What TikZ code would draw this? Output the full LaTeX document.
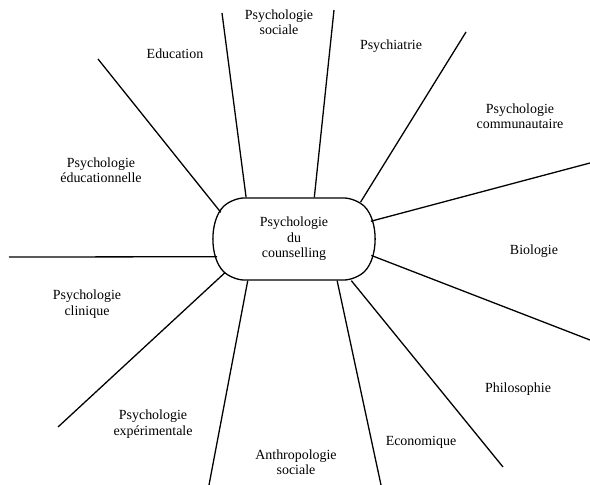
\documentclass[tikz,border=0pt]{standalone}
\usepackage{fontspec}
\setmainfont{Liberation Serif}
\usetikzlibrary{shapes.misc}

\begin{document}
\begin{tikzpicture}[x=1bp, y=-1bp, line width=1.3pt,
                    hub/.style = {rounded rectangle, rounded rectangle arc length=90, draw, fill=white,
                                  rounded corners=12bp, minimum width=158bp, minimum height=82bp,
                                  inner sep=0pt, align=center, font=\fontsize{14}{15.5}\selectfont},
                    field/.style = {align=center, font=\fontsize{14}{15.5}\selectfont}]
      \useasboundingbox (0,0) rectangle (590,485);

      \node [hub] (counsel) at (294,239) {Psychologie\\du\\counselling};

      \coordinate (socialeEnd) at (222,13);
      \coordinate (psychiatrieEnd) at (334,10);
      \coordinate (communEnd) at (466,32);
      \coordinate (biologieEnd) at (590,163);
      \coordinate (philoEnd) at (590,340);
      \coordinate (ecoEnd) at (503,467);
      \coordinate (anthroEnd) at (381,485);
      \coordinate (experEnd) at (209,485);
      \coordinate (cliniqueEnd) at (58,427);
      \coordinate (educEnd) at (9,257);
      \coordinate (educationEnd) at (98,59);

      \node [field] (sociale) at (279,22) {Psychologie\\sociale};
      \node [field] (education) at (175,54) {Education};
      \node [field] (psychiatrie) at (391,46) {Psychiatrie};
      \node [field] (commun) at (520,116) {Psychologie\\communautaire};
      \node [field] (educ) at (101,170) {Psychologie\\éducationnelle};
      \node [field] (biologie) at (534,251) {Biologie};
      \node [field] (clinique) at (87,304) {Psychologie\\clinique};
      \node [field] (philo) at (518,389) {Philosophie};
      \node [field] (exper) at (153,424) {Psychologie\\expérimentale};
      \node [field] (eco) at (421,442) {Economique};
      \node [field] (anthro) at (296,462) {Anthropologie\\sociale};

      \draw (socialeEnd) -- (counsel.139);
      \draw (psychiatrieEnd) -- (counsel.64);
      \draw (communEnd) -- (counsel.29);
      \draw (biologieEnd) -- (counsel.13);
      \draw (philoEnd) -- (counsel.-12);
      \draw (ecoEnd) -- (counsel.-36);
      \draw (anthroEnd) -- (counsel.-44);
      \draw (experEnd) -- (counsel.222);
      \draw (cliniqueEnd) -- (counsel.206);
      \draw (educEnd) -- (counsel.193);
      \draw (educationEnd) -- (counsel.160);
      \end{tikzpicture}
\end{document}
